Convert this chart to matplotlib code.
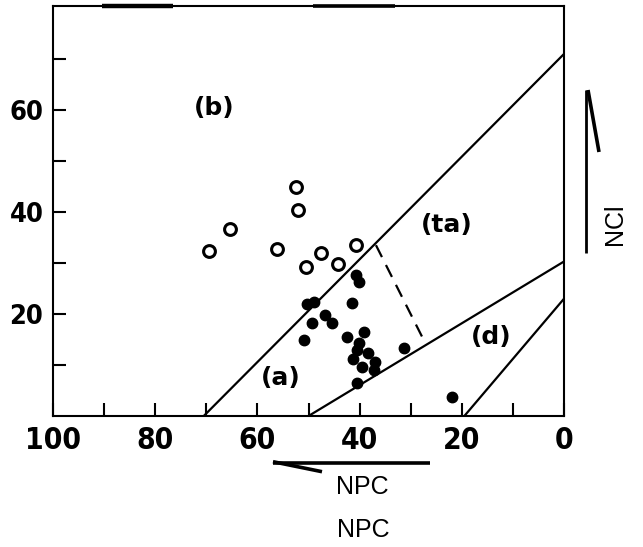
import matplotlib.pyplot as plt
from matplotlib.lines import Line2D

# NPC / NCl values of the samples
open_npc = [52.5, 52.1, 65.4, 69.5, 56.1, 47.5, 50.4, 44.3, 40.8]
open_ncl = [45.0, 40.4, 36.7, 32.4, 32.7, 31.9, 29.3, 29.8, 33.5]

filled_npc = [50.3, 49.0, 40.8, 40.2, 41.5, 46.7, 45.4, 49.3, 50.8, 42.4, 39.2,
              40.2, 40.5, 38.4, 41.3, 39.5, 36.9, 37.2, 40.5, 31.3, 21.9]
filled_ncl = [22.0, 22.4, 27.6, 26.3, 22.1, 19.8, 18.3, 18.2, 14.9, 15.5, 16.5,
              14.3, 12.9, 12.3, 11.1, 9.7, 10.6, 9.0, 6.4, 13.3, 3.8]

# field boundaries (NPC, NCl) end points
line_ab = ([70.5, 0], [0, 71])
line_ad = ([50, 0], [0, 30.3])
line_d = ([19.5, 0], [0, 23])
line_ta = ([36.8, 27.3], [33.5, 14.6])

x_ticks = [0, 20, 40, 60, 80, 100]
y_ticks = [20, 40, 60]

fields = ["(b)", "(ta)", "(a)", "(d)"]
field_pos = [(68.4, 60.4), (23.0, 37.4), (55.5, 7.5), (14.3, 15.5)]

W, H = 643, 547
fig = plt.figure(figsize=(W / 100, H / 100), dpi=100)
ax = fig.add_axes([53 / W, 131 / H, (564 - 53) / W, 410.5 / H])

ax.plot(*line_ab, color="black", lw=1.6)
ax.plot(*line_ad, color="black", lw=1.6)
ax.plot(*line_d, color="black", lw=1.6)
ax.plot(*line_ta, color="black", lw=1.6, dashes=(6, 4))

ax.plot(open_npc, open_ncl, "o", ms=8.5, mfc="white", mec="black", mew=2.2)
ax.plot(filled_npc, filled_ncl, "o", ms=7.5, color="black")

for lab, (px, py) in zip(fields, field_pos):
    ax.text(px, py, lab, fontsize=18, ha="center", va="center",
            family="DejaVu Sans", weight="bold")

ax.set_xlim(100, 0)
ax.set_ylim(0, 80.5)
ax.set_xticks(x_ticks)
ax.set_xticks(range(10, 100, 20), minor=True)
ax.set_yticks(y_ticks)
ax.set_yticks([10, 30, 50, 70], minor=True)

tick_font = dict(family="DejaVu Sans", stretch="condensed", weight="bold")
ax.set_xticklabels([str(v) for v in x_ticks], fontsize=21.5, **tick_font)
ax.set_yticklabels([str(v) for v in y_ticks], fontsize=19.5, **tick_font)
ax.tick_params(which="both", direction="in", length=9.5, width=1.5,
               top=False, right=False)
ax.tick_params(axis="x", which="both", pad=7)
ax.tick_params(axis="y", which="both", pad=7)
for sp in ax.spines.values():
    sp.set_linewidth(1.5)


def fig_line(xs, ys, lw):
    fig.add_artist(Line2D([x / W for x in xs], [1 - y / H for y in ys],
                          color="black", lw=lw, solid_capstyle="butt"))


# heavier strokes along the top border
fig_line([102, 173], [5.5, 5.5], 3.2)
fig_line([313, 395], [5.5, 5.5], 2.6)

# NCl arrow on the right
fig_line([586, 586], [90, 253], 2.0)
fig_line([588, 599], [90, 152], 2.6)
fig.text(615 / W, 1 - 224 / H, "NCl", rotation=90, fontsize=18,
         family="Liberation Sans", ha="center", va="center")

# NPC arrow below the axis
fig_line([273, 430], [462.7, 462.7], 2.6)
fig_line([273, 322], [461.7, 471.7], 2.6)
fig.text(362 / W, 1 - 487 / H, "NPC", fontsize=18, family="Liberation Sans",
         ha="center", va="center")
fig.text(363 / W, 1 - 530 / H, "NPC", fontsize=18, family="Liberation Sans",
         ha="center", va="center")

fig.savefig("out.png", dpi=100)
